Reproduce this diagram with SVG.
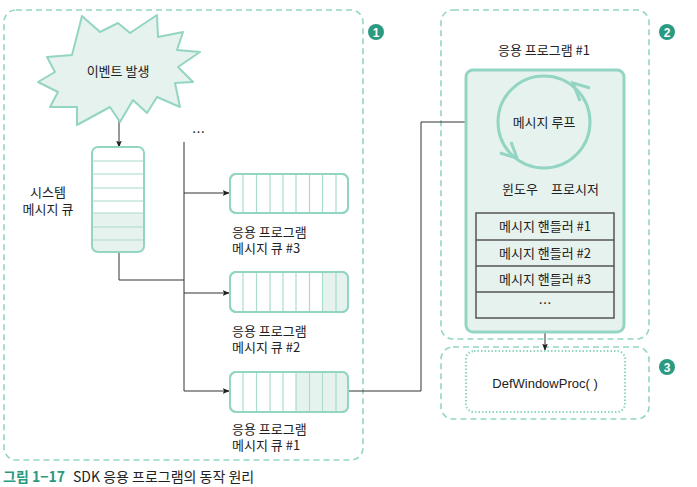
<svg xmlns="http://www.w3.org/2000/svg" width="697" height="487" viewBox="0 0 697 487">
<defs>
<style>
text{font-family:"Noto Sans CJK KR","Noto Sans",sans-serif;font-size:13px;fill:#222}
.c{text-anchor:middle}
.dash{fill:none;stroke:#93d5c3;stroke-width:1.6;stroke-dasharray:6 4}
.dot{fill:none;stroke:#93d5c3;stroke-width:2.2;stroke-dasharray:1.5 2}
.q{fill:#fff;stroke:#93d5c3;stroke-width:2}
.qs{fill:#e6f2ee}
.ql{stroke:#a8dccd;stroke-width:1.2}
.wire{fill:none;stroke:#333;stroke-width:1}
.badge{fill:#2a9a80}
.bn{fill:#fff;font-family:"Liberation Sans",sans-serif;font-weight:bold;font-size:12px;text-anchor:middle}
</style>
<marker id="ah" viewBox="0 0 10 10" refX="9" refY="5" markerWidth="7" markerHeight="7" orient="auto" markerUnits="userSpaceOnUse">
<path d="M0,1 L10,5 L0,9 L2,5 Z" fill="#222"/>
</marker>
</defs>
<rect width="697" height="487" fill="#fff"/>

<!-- containers -->
<g id="region1">
<rect class="dash" x="4" y="10" width="359" height="450" rx="12"/>
<circle class="badge" cx="376" cy="32" r="8"/><text class="bn" x="376" y="36.5">1</text>
</g>
<g id="region2">
<rect class="dash" x="441" y="10" width="208" height="329" rx="12"/>
<circle class="badge" cx="667" cy="32" r="8"/><text class="bn" x="667" y="36.5">2</text>
</g>
<g id="region3">
<rect class="dash" x="441" y="347" width="208" height="72" rx="12"/>
<circle class="badge" cx="667" cy="367" r="8"/><text class="bn" x="667" y="371.5">3</text>
</g>

<!-- connectors -->
<g id="connectors">
<line class="wire" x1="119" y1="117" x2="119" y2="147" marker-end="url(#ah)"/>
<polyline class="wire" points="119,252 119,280 184,280"/>
<line class="wire" x1="184" y1="142" x2="184" y2="391"/>
<line class="wire" x1="184" y1="193" x2="229" y2="193" marker-end="url(#ah)"/>
<line class="wire" x1="184" y1="293" x2="229" y2="293" marker-end="url(#ah)"/>
<line class="wire" x1="184" y1="391" x2="229" y2="391" marker-end="url(#ah)"/>
<polyline class="wire" points="348,391 421,391 421,122 495,122" marker-end="url(#ah)"/>
<line class="wire" x1="545" y1="167" x2="545" y2="212" marker-end="url(#ah)"/>
<line class="wire" x1="545" y1="332" x2="545" y2="350" marker-end="url(#ah)"/>
</g>

<g id="event">
<polygon points="47,57 72,55 82,16 100,32 118,23 130,33 157,15 158,37 183,32 177,50 200,52 178,67 193,82 175,83 180,107 157,97 147,113 133,100 120,122 110,107 77,125 77,107 50,107 58,92 38,82 55,72" fill="#e6f2ee" stroke="#93d5c3" stroke-width="2" stroke-linejoin="round"/>
<text class="c" x="118" y="76">이벤트 발생</text>
</g>

<g id="system-queue">
<rect x="92" y="147" width="52" height="105" rx="6" fill="#fff"/>
<path d="M92,213 H144 V246 a6,6 0 0 1 -6,6 H98 a6,6 0 0 1 -6,-6 Z" class="qs"/>
<g class="ql">
<line x1="92" y1="161" x2="144" y2="161"/><line x1="92" y1="174" x2="144" y2="174"/>
<line x1="92" y1="188" x2="144" y2="188"/><line x1="92" y1="201" x2="144" y2="201"/>
<line x1="92" y1="213" x2="144" y2="213"/><line x1="92" y1="227" x2="144" y2="227"/>
<line x1="92" y1="240" x2="144" y2="240"/>
</g>
<rect x="92" y="147" width="52" height="105" rx="6" fill="none" stroke="#93d5c3" stroke-width="2"/>
<text class="c" x="48" y="197">시스템</text>
<text class="c" x="48" y="214">메시지 큐</text>
</g>

<text x="192" y="137">…</text>

<g id="app-queue-3">
<rect class="q" x="230" y="174" width="118" height="39" rx="6"/>
<g class="ql">
<line x1="243" y1="174" x2="243" y2="213"/><line x1="256.5" y1="174" x2="256.5" y2="213"/>
<line x1="270" y1="174" x2="270" y2="213"/><line x1="283" y1="174" x2="283" y2="213"/>
<line x1="296" y1="174" x2="296" y2="213"/><line x1="309.5" y1="174" x2="309.5" y2="213"/>
<line x1="322.5" y1="174" x2="322.5" y2="213"/><line x1="336" y1="174" x2="336" y2="213"/>
</g>
<rect x="230" y="174" width="118" height="39" rx="6" fill="none" stroke="#93d5c3" stroke-width="2"/>
<text x="232" y="237">응용 프로그램</text>
<text x="232" y="253">메시지 큐 #3</text>
</g>

<g id="app-queue-2">
<rect class="q" x="230" y="272" width="118" height="40" rx="6"/>
<path d="M322.5,272 H342 a6,6 0 0 1 6,6 V306 a6,6 0 0 1 -6,6 H322.5 Z" class="qs"/>
<g class="ql">
<line x1="243" y1="272" x2="243" y2="312"/><line x1="256.5" y1="272" x2="256.5" y2="312"/>
<line x1="270" y1="272" x2="270" y2="312"/><line x1="283" y1="272" x2="283" y2="312"/>
<line x1="296" y1="272" x2="296" y2="312"/><line x1="309.5" y1="272" x2="309.5" y2="312"/>
<line x1="322.5" y1="272" x2="322.5" y2="312"/><line x1="336" y1="272" x2="336" y2="312"/>
</g>
<rect x="230" y="272" width="118" height="40" rx="6" fill="none" stroke="#93d5c3" stroke-width="2"/>
<text x="232" y="336">응용 프로그램</text>
<text x="232" y="352">메시지 큐 #2</text>
</g>

<g id="app-queue-1">
<rect class="q" x="230" y="372" width="118" height="40" rx="6"/>
<path d="M296,372 H342 a6,6 0 0 1 6,6 V406 a6,6 0 0 1 -6,6 H296 Z" class="qs"/>
<g class="ql">
<line x1="243" y1="372" x2="243" y2="412"/><line x1="256.5" y1="372" x2="256.5" y2="412"/>
<line x1="270" y1="372" x2="270" y2="412"/><line x1="283" y1="372" x2="283" y2="412"/>
<line x1="296" y1="372" x2="296" y2="412"/><line x1="309.5" y1="372" x2="309.5" y2="412"/>
<line x1="322.5" y1="372" x2="322.5" y2="412"/><line x1="336" y1="372" x2="336" y2="412"/>
</g>
<rect x="230" y="372" width="118" height="40" rx="6" fill="none" stroke="#93d5c3" stroke-width="2"/>
<text x="232" y="434">응용 프로그램</text>
<text x="232" y="450">메시지 큐 #1</text>
</g>

<g id="app-program-1">
<text class="c" x="544" y="55">응용 프로그램 #1</text>
<rect x="466" y="70" width="158" height="262" rx="7" fill="#e6f2ee" stroke="#93d5c3" stroke-width="3"/>
</g>

<g id="message-loop">
<circle cx="544" cy="122" r="46" fill="none" stroke="#93d5c3" stroke-width="3"/>
<polyline points="590,88 573,83 580,101" fill="none" stroke="#93d5c3" stroke-width="3"/>
<polyline points="500,153 517,158 511,142" fill="none" stroke="#93d5c3" stroke-width="3"/>
<text class="c" x="544" y="127">메시지 루프</text>
</g>
<text class="c" x="520" y="194">윈도우</text>
<text class="c" x="575" y="194">프로시저</text>

<g id="handlers">
<rect x="476" y="213" width="138" height="105" fill="#e6f2ee" stroke="#555" stroke-width="1.5"/>
<line x1="476" y1="240" x2="614" y2="240" stroke="#555" stroke-width="1.5"/>
<line x1="476" y1="266" x2="614" y2="266" stroke="#555" stroke-width="1.5"/>
<line x1="476" y1="292" x2="614" y2="292" stroke="#555" stroke-width="1.5"/>
<text class="c" x="545" y="231">메시지 핸들러 #1</text>
<text class="c" x="545" y="258">메시지 핸들러 #2</text>
<text class="c" x="545" y="284">메시지 핸들러 #3</text>
<text class="c" x="545" y="308">…</text>
</g>

<g id="defwindowproc">
<rect class="dot" x="466" y="351" width="159" height="61" rx="8"/>
<text class="c" x="545" y="388" style="font-family:'Liberation Sans',sans-serif">DefWindowProc( )</text>
</g>

<g id="caption">
<text x="3" y="482" style="font-weight:bold;fill:#2a9a80;font-size:14px">그림 1−17</text>
<text x="73" y="482" style="font-size:14px">SDK 응용 프로그램의 동작 원리</text>
</g>
</svg>
